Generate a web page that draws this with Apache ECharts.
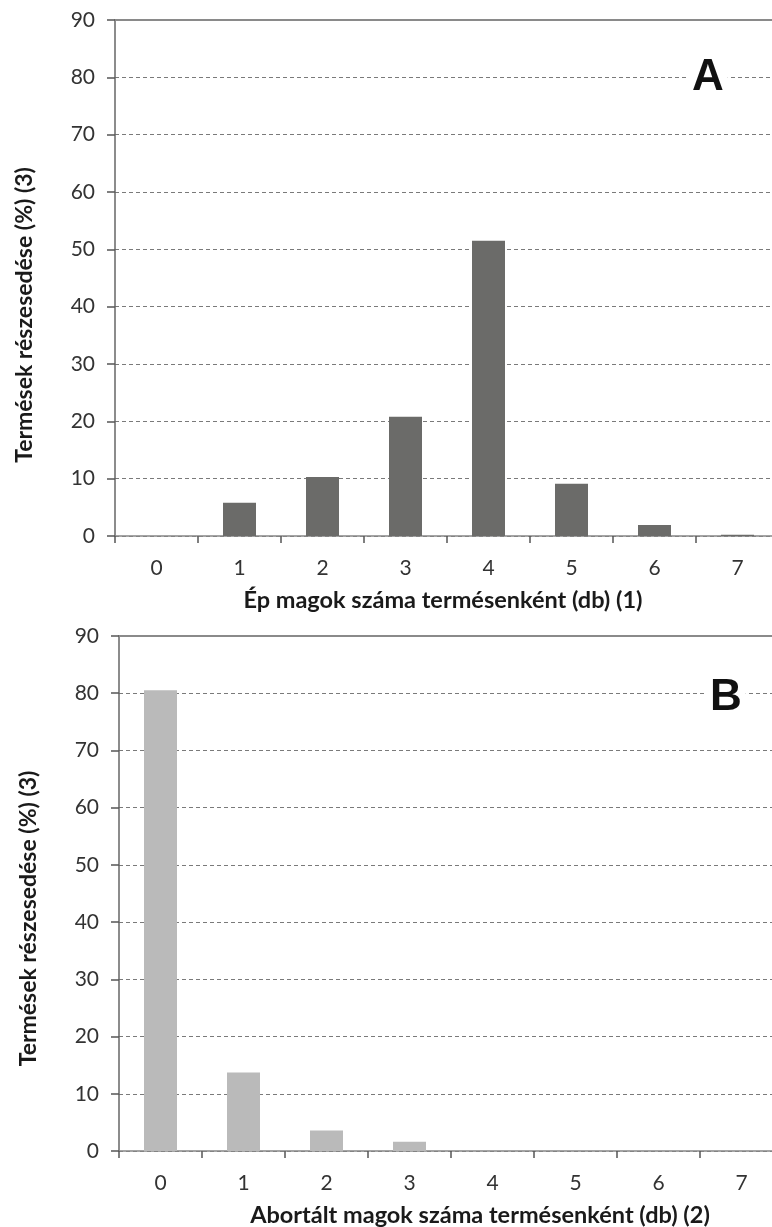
<!DOCTYPE html>
<html>
<head>
<meta charset="utf-8">
<script src="https://cdn.jsdelivr.net/npm/echarts@6/dist/echarts.min.js"></script>
<style>
html,body{margin:0;padding:0;background:#fff;overflow:hidden;}
#c{width:772px;height:1227px;}
</style>
</head>
<body>
<div id="c"></div>
<script>
const categories = ['0','1','2','3','4','5','6','7'];
const valuesA = [0, 5.8, 10.3, 20.8, 51.5, 9.1, 1.9, 0.2];
const valuesB = [80.5, 13.7, 3.6, 1.6, 0, 0, 0, 0];
const xTitleA = 'Ép magok száma termésenként (db) (1)';
const xTitleB = 'Abortált magok száma termésenként (db) (2)';
const yTitle = 'Termések részesedése (%) (3)';
const panelA = 'A';
const panelB = 'B';

const FONT = 'Lato';
const chart = echarts.init(document.getElementById('c'), null, {renderer:'canvas'});

function xAxisCfg(gridIndex, name, pad) {
  return {
    type:'category', gridIndex, data: categories,
    axisLine:{show:true, lineStyle:{color:'#868686', width:1.5}},
    axisTick:{show:true, length:7, lineStyle:{color:'#555', width:1.5}},
    axisLabel:{fontFamily:FONT, fontSize:21, color:'#333', margin:22},
    splitLine:{show:false},
    name, nameLocation:'middle', nameGap:52,
    nameTextStyle:{fontFamily:FONT, fontSize:23.5, fontWeight:'bold', color:'#1a1a1a', padding:pad}
  };
}
function topAxisCfg(gridIndex) {
  return {
    type:'category', gridIndex, data: categories, position:'top',
    axisLine:{show:true, lineStyle:{color:'#8a8a8a', width:2}},
    axisTick:{show:false}, axisLabel:{show:false}, splitLine:{show:false}
  };
}
function yAxisCfg(gridIndex, pad) {
  return {
    type:'value', gridIndex, min:0, max:90, interval:10,
    axisLine:{show:true, lineStyle:{color:'#666', width:1.5}},
    axisTick:{show:true, inside:false, length:8, lineStyle:{color:'#555', width:1.5}},
    axisLabel:{fontFamily:FONT, fontSize:21, color:'#333', margin:20},
    splitLine:{show:true, lineStyle:{color:'#7a7a7a', type:[4,3], width:1}},
    name: yTitle, nameLocation:'middle', nameGap:79,
    nameTextStyle:{fontFamily:FONT, fontSize:23, fontWeight:'bold', color:'#1a1a1a', padding:pad}
  };
}

chart.setOption({
  animation:false,
  backgroundColor:'#fff',
  title:[
    {text:panelA, left:688, top:54, padding:[2,4,2,4], backgroundColor:'#fff',
     textStyle:{fontFamily:'Liberation Sans', fontSize:44, fontWeight:'bold', color:'#111'}},
    {text:panelB, left:706, top:674, padding:[2,4,2,4], backgroundColor:'#fff',
     textStyle:{fontFamily:'Liberation Sans', fontSize:44, fontWeight:'bold', color:'#111'}}
  ],
  grid:[
    {left:115, top:20, width:664, height:516, outerBoundsMode:'none', containLabel:false},
    {left:119, top:636, width:664, height:515, outerBoundsMode:'none', containLabel:false}
  ],
  xAxis:[ xAxisCfg(0, xTitleA, [0,8,0,0]), xAxisCfg(1, xTitleB, [0,0,0,58]), topAxisCfg(0), topAxisCfg(1) ],
  yAxis:[ yAxisCfg(0, [0,74,0,0]), yAxisCfg(1, [0,50,0,0]) ],
  series:[
    {type:'bar', xAxisIndex:0, yAxisIndex:0, data:valuesA, barWidth:33,
     itemStyle:{color:'#6b6b69'}},
    {type:'bar', xAxisIndex:1, yAxisIndex:1, data:valuesB, barWidth:33,
     itemStyle:{color:'#bababa'}}
  ]
});
</script>
</body>
</html>
